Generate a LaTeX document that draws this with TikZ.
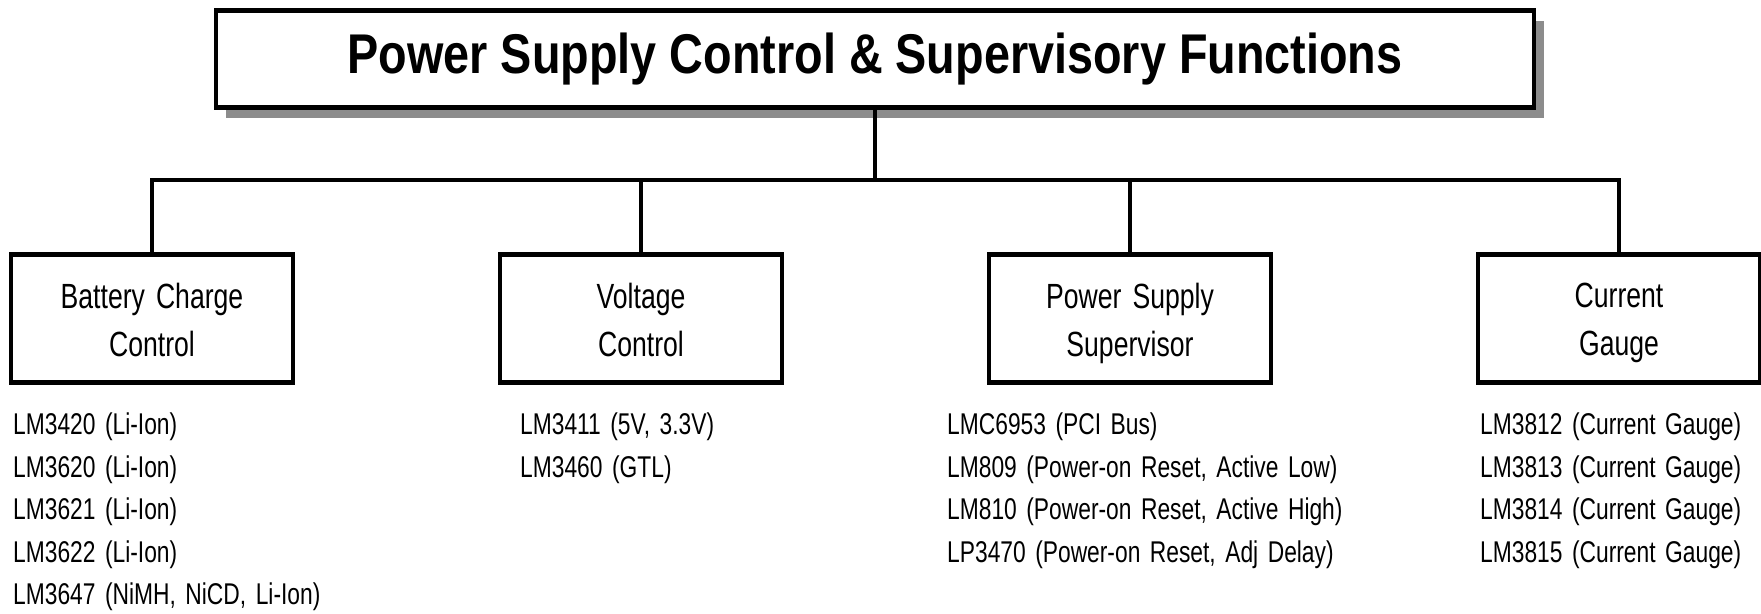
\documentclass[tikz,border=0pt]{standalone}
\usepackage{fontspec}
\setmainfont{Liberation Sans}[FakeStretch=0.76,WordSpace=1.5]
\newfontfamily\headfont{Liberation Sans}[FakeStretch=0.835]
\usetikzlibrary{shadows}

\begin{document}
\begin{tikzpicture}[x=1pt,y=-1pt,
    wire/.style={line width=4.5pt},
    head/.style={draw,line width=4.5pt,fill=white,minimum width=1318pt,minimum height=97pt,
      drop shadow={shadow xshift=10pt,shadow yshift=-10pt,fill=black!45,opacity=1},
      font=\headfont\bfseries\fontsize{56}{60}\selectfont},
    unit/.style={draw,line width=4.5pt,minimum width=282pt,minimum height=128pt},
    caption/.style={align=center,inner sep=0pt,font=\fontsize{35}{48}\selectfont,
      execute at end node={\rule[-8pt]{0pt}{0pt}}},
    parts/.style={anchor=north west,align=left,inner sep=0pt,font=\fontsize{30}{42.5}\selectfont}]
  \useasboundingbox (0,0) rectangle (1761,613);
  % --- title
  \node[head] (top) at (875,59) {Power Supply Control \& Supervisory Functions};
  % --- function boxes
  \node[unit] (bcc) at (152,318.5) {};
  \node[unit] (vc) at (641,318.5) {};
  \node[unit] (pss) at (1130,318.5) {};
  \node[unit] (cg) at (1619,318.5) {};
  \node[caption] (bcctext) at ([yshift=-5pt]bcc.center) {Battery Charge\\Control};
  \node[caption] (vctext) at ([yshift=-5pt]vc.center) {Voltage\\Control};
  \node[caption] (psstext) at ([yshift=-5pt]pss.center) {Power Supply\\Supervisor};
  \node[caption] (cgtext) at ([yshift=-5pt]cg.center) {Current\\Gauge};
  % --- connectors
  \coordinate (bar) at (0,180);
  \draw[wire] (top.south) -- (top.south |- bar);
  \draw[wire] (bcc.north) |- (cg.north |- bar) -- (cg.north);
  \foreach \n in {vc,pss} \draw[wire] (\n.north) -- (\n.north |- bar);
  % --- device lists
  \node[parts] (bcclist) at (13,413) {LM3420 (Li-Ion)\\LM3620 (Li-Ion)\\LM3621 (Li-Ion)\\LM3622 (Li-Ion)\\LM3647 (NiMH, NiCD, Li-Ion)};
  \node[parts] (vclist) at (520,413) {LM3411 (5V, 3.3V)\\LM3460 (GTL)};
  \node[parts] (psslist) at (947,413) {LMC6953 (PCI Bus)\\LM809 (Power-on Reset, Active Low)\\LM810 (Power-on Reset, Active High)\\LP3470 (Power-on Reset, Adj Delay)};
  \node[parts] (cglist) at (1480,413) {LM3812 (Current Gauge)\\LM3813 (Current Gauge)\\LM3814 (Current Gauge)\\LM3815 (Current Gauge)};
\end{tikzpicture}
\end{document}
